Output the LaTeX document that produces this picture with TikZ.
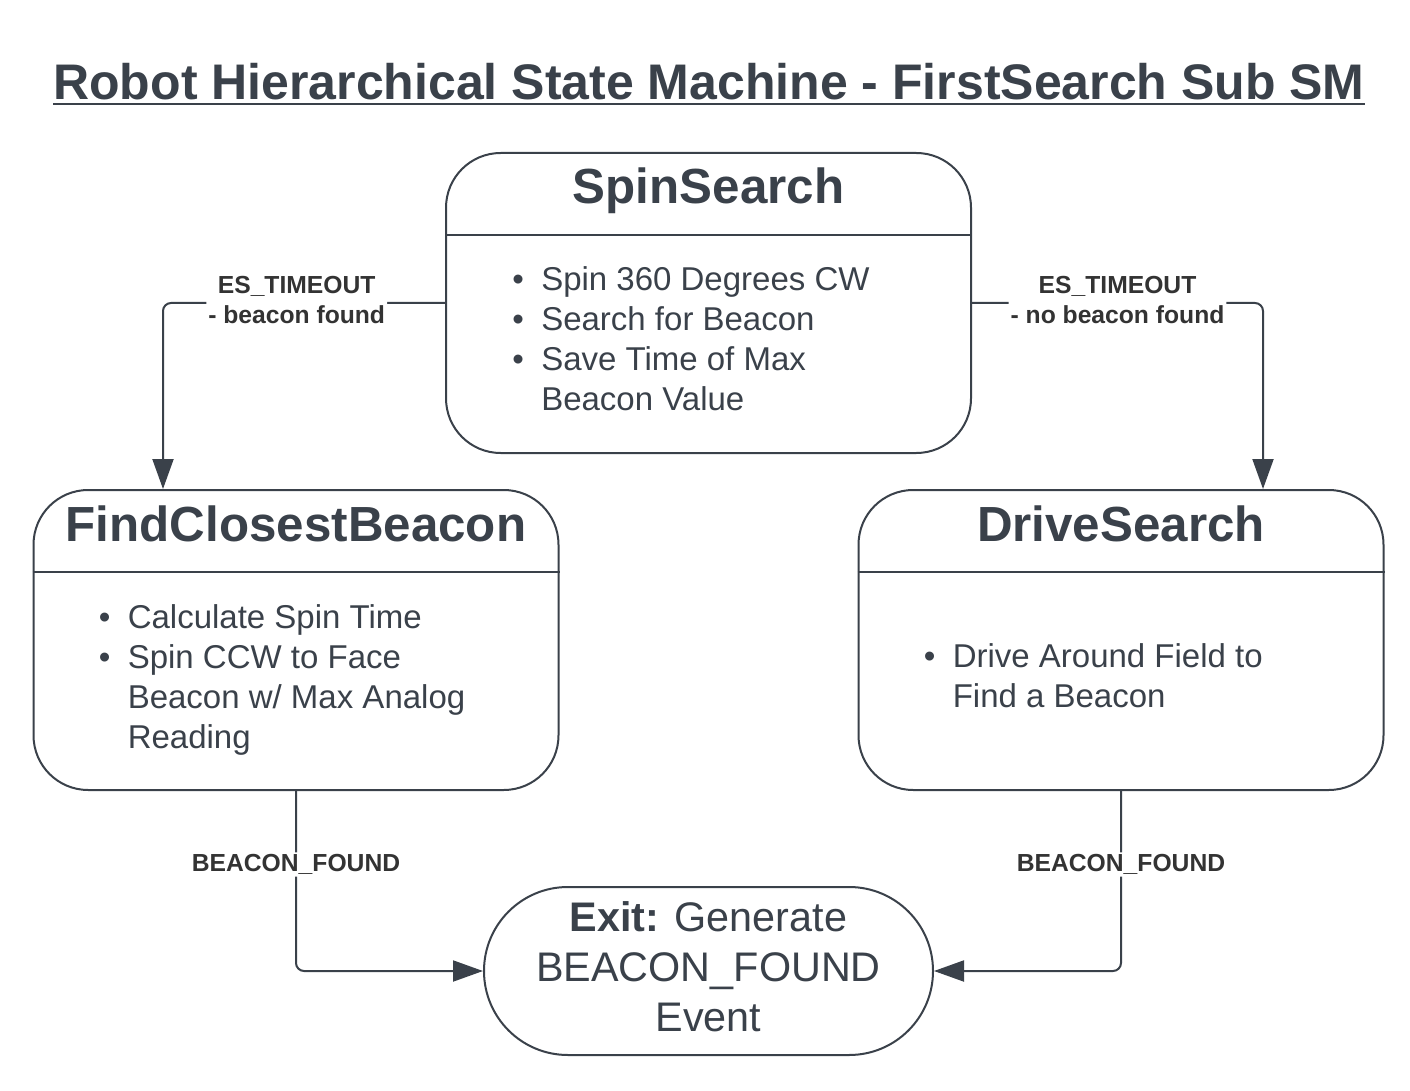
\documentclass[tikz,border=0pt]{standalone}
\usepackage{fontspec}
\setmainfont{Liberation Sans}
\usetikzlibrary{arrows.meta,calc,positioning}

\definecolor{slate}{RGB}{58,65,74}
\definecolor{lblgray}{RGB}{51,51,51}

\tikzset{
  state/.style={draw=slate, line width=1.5pt, rounded corners=41pt, minimum width=393.75pt, minimum height=225pt, inner sep=0pt},
  exitstate/.style={draw=slate, line width=1.5pt, rounded corners=62.9pt, minimum width=336.75pt, minimum height=126pt, inner sep=0pt},
  exittext/.style={align=center, inner sep=0pt, text=slate, font=\fontsize{31pt}{37.5pt}\selectfont},
  divider/.style={draw=slate, line width=1.1pt},
  statename/.style={anchor=base, text=slate, inner sep=0pt, font=\bfseries\fontsize{37pt}{44pt}\selectfont},
  bullets/.style={anchor=base west, align=left, inner sep=0pt, text=slate, font=\fontsize{24.75pt}{30pt}\selectfont},
  trans/.style={draw=slate, line width=1.5pt, rounded corners=6pt, -{Triangle[length=22.5pt,width=15.75pt]}},
  evlabel/.style={fill=white, text=lblgray, align=center, inner sep=1.5pt, font=\bfseries\fontsize{18.5pt}{22.5pt}\selectfont}
}
\newcommand{\bitem}{\llap{\textbullet\hspace{13pt}}}

\begin{document}
\begin{tikzpicture}[x=0.75pt,y=0.75pt,yscale=-1,xscale=1]
\useasboundingbox (0,0) rectangle (1410,1091);

% Title
\node (title) [anchor=base, inner sep=0pt, text=slate, font=\bfseries\fontsize{37.5pt}{45pt}\selectfont] at (709,100) {Robot Hierarchical State Machine - FirstSearch Sub SM};
\draw [slate, line width=2.2pt] ($(title.base west)+(0,4)$) -- ($(title.base east)+(0,4)$);

% States
\node (spin) [state] at (708.5,303) {};
\node (find) [state] at (296,640) {};
\node (drive) [state] at (1121,640) {};
\node (exit) [exitstate] at (708.5,971) {};
\node (exitlbl) [exittext] at ($(exit.center)+(0,-4)$) {\textbf{Exit:} Generate\\BEACON\_FOUND\\Event};

% Dividers
\draw [divider] ($(spin.north west)+(0,83)$) -- ($(spin.north east)+(0,83)$);
\draw [divider] ($(find.north west)+(0,83)$) -- ($(find.north east)+(0,83)$);
\draw [divider] ($(drive.north west)+(0,83)$) -- ($(drive.north east)+(0,83)$);

% State names
\node (spinname) [statename] at ($(spin.north)+(0,52)$) {SpinSearch};
\node (findname) [statename] at ($(find.north)+(0,52)$) {FindClosestBeacon};
\node (drivename) [statename] at ($(drive.north)+(0,52)$) {DriveSearch};

% Activities (base = last line)
\node (spinlist) [bullets] at ($(spin.north west)+(96,258)$) {\bitem Spin 360 Degrees CW\\\bitem Search for Beacon\\\bitem Save Time of Max\\Beacon Value};
\node (findlist) [bullets] at ($(find.north west)+(95,259)$) {\bitem Calculate Spin Time\\\bitem Spin CCW to Face\\Beacon w/ Max Analog\\Reading};
\node (drivelist) [bullets] at ($(drive.north west)+(95,218)$) {\bitem Drive Around Field to\\Find a Beacon};

% Transitions
\draw [trans] (spin.west) -| node[evlabel, pos=0.263, yshift=2pt] {ES\_TIMEOUT\\- beacon found} ($(find.north)+(-133,0)$);
\draw [trans] (spin.east) -| node[evlabel, pos=0.25, yshift=2pt] {ES\_TIMEOUT\\- no beacon found} ($(drive.north)+(142,0)$);
\draw [trans] (find.south) |- node[evlabel, pos=0.204] {BEACON\_FOUND} (exit.west);
\draw [trans] (drive.south) |- node[evlabel, pos=0.204] {BEACON\_FOUND} (exit.east);

\end{tikzpicture}
\end{document}
